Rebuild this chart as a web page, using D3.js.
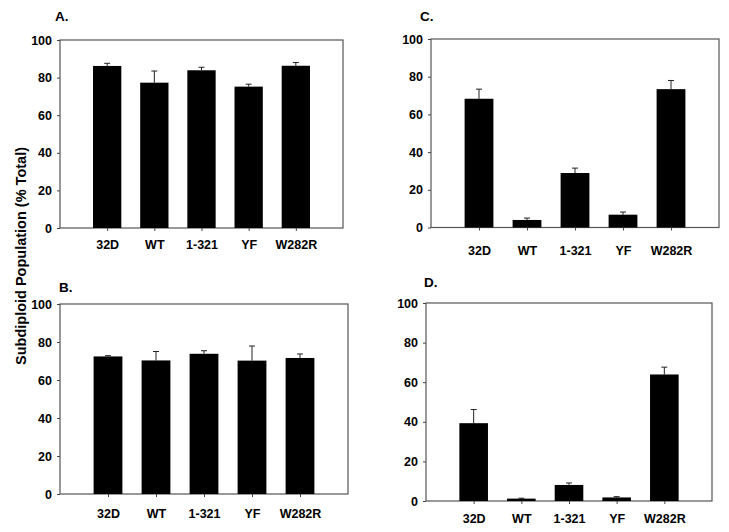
<!DOCTYPE html>
<html lang="en">
<head>
    <meta charset="UTF-8">
    <title>Subdiploid Population</title>
    <script src="https://d3js.org/d3.v7.min.js"></script>
    <style>
        body {
            margin: 0;
            background: #fff;
        }
        svg text {
            font-family: Arial, 'Liberation Sans', sans-serif;
            font-weight: bold;
            fill: #000;
        }
    </style>
</head>
<body>
<div id="chart"></div>
<script>
    // categories shared by all four panels
    var categories = ["32D", "WT", "1-321", "YF", "W282R"];
    var yTicks = [0, 20, 40, 60, 80, 100];

    // mean values and error (upper) per panel
    var valuesA = [86.2, 77.3, 83.9, 75.2, 86.3];
    var errorsA = [1.4, 6.2, 1.6, 1.3, 1.7];
    var valuesB = [72.4, 70.3, 73.8, 70.2, 71.6];
    var errorsB = [0.4, 4.7, 1.6, 7.7, 2.1];
    var valuesC = [68.3, 4.0, 28.9, 6.8, 73.4];
    var errorsC = [5.1, 1.0, 2.6, 1.4, 4.6];
    var valuesD = [39.3, 1.2, 8.1, 1.8, 63.9];
    var errorsD = [6.9, 0.2, 1.0, 0.4, 3.7];

    // panel layout (pixel boxes)
    var panels = [
        {label: "A.", values: valuesA, errors: errorsA, left: 60, right: 343, top: 40, bottom: 228, lx: 55, ly: 21, pad: 9.5},
        {label: "B.", values: valuesB, errors: errorsB, left: 60, right: 348, top: 304, bottom: 494, lx: 59, ly: 292, pad: 12.5},
        {label: "C.", values: valuesC, errors: errorsC, left: 431, right: 719, top: 39, bottom: 227.5, lx: 420, ly: 21, pad: 15.5},
        {label: "D.", values: valuesD, errors: errorsD, left: 426, right: 712, top: 303, bottom: 501, lx: 424, ly: 287, pad: 10.5}
    ];

    var svg = d3.select("#chart")
        .append("svg")
        .attr("width", 729)
        .attr("height", 532);

    panels.forEach(function (p) {
        var x = d3.scalePoint().domain(categories).range([p.left, p.right]).padding(1);
        var y = d3.scaleLinear().domain([0, 100]).range([p.bottom, p.top]);
        var barW = x.step() * 0.6;

        var g = svg.append("g");

        // frame
        g.append("rect")
            .attr("x", p.left)
            .attr("y", p.top)
            .attr("width", p.right - p.left)
            .attr("height", p.bottom - p.top)
            .attr("fill", "none")
            .attr("stroke", "#555")
            .attr("stroke-width", 1.2);

        // error bars (upper only)
        var data = categories.map(function (c, i) {
            return {cat: c, v: p.values[i], e: p.errors[i]};
        });
        g.selectAll("line.err")
            .data(data)
            .enter().append("line")
            .attr("class", "err")
            .attr("x1", d => x(d.cat))
            .attr("x2", d => x(d.cat))
            .attr("y1", d => y(d.v))
            .attr("y2", d => y(d.v + d.e))
            .attr("stroke", "#222")
            .attr("stroke-width", 1);
        g.selectAll("line.cap")
            .data(data)
            .enter().append("line")
            .attr("class", "cap")
            .attr("x1", d => x(d.cat) - 3)
            .attr("x2", d => x(d.cat) + 3)
            .attr("y1", d => y(d.v + d.e))
            .attr("y2", d => y(d.v + d.e))
            .attr("stroke", "#222")
            .attr("stroke-width", 1);

        // bars
        g.selectAll("rect.bar")
            .data(data)
            .enter().append("rect")
            .attr("class", "bar")
            .attr("x", d => x(d.cat) - barW / 2)
            .attr("y", d => y(d.v))
            .attr("width", barW)
            .attr("height", d => y(0) - y(d.v))
            .attr("fill", "#000");

        // y axis
        var yAxis = g.append("g")
            .attr("transform", "translate(" + p.left + ",0)")
            .call(d3.axisLeft(y).tickValues(yTicks).tickSize(3).tickPadding(5));
        yAxis.select(".domain").remove();
        yAxis.selectAll("line").attr("stroke", "#444");
        yAxis.selectAll("text").style("font-size", "12.5px");

        // x axis
        var xAxis = g.append("g")
            .attr("transform", "translate(0," + p.bottom + ")")
            .call(d3.axisBottom(x).tickSize(3).tickPadding(p.pad));
        xAxis.select(".domain").remove();
        xAxis.selectAll("line").attr("stroke", "#444");
        xAxis.selectAll("text").style("font-size", "12.5px");

        // panel letter
        g.append("text")
            .attr("x", p.lx)
            .attr("y", p.ly)
            .style("font-size", "13.5px")
            .text(p.label);
    });

    // shared y axis title
    svg.append("text")
        .attr("transform", "translate(25.5,256) rotate(-90)")
        .attr("text-anchor", "middle")
        .style("font-size", "14.5px")
        .text("Subdiploid Population (% Total)");
</script>
</body>
</html>
